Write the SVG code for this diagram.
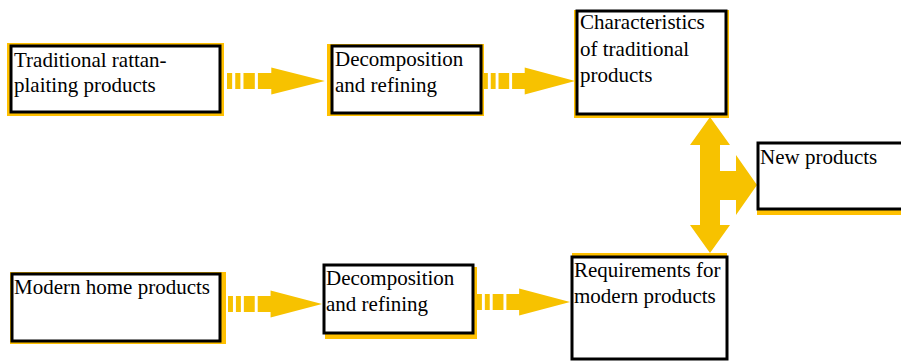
<svg xmlns="http://www.w3.org/2000/svg" xmlns:xlink="http://www.w3.org/1999/xlink" width="901" height="361" viewBox="0 0 901 361">
<style>
.bg{fill:#FFC000}
.box{fill:#fff;stroke:#000;stroke-width:3}
.t{font-family:"Liberation Serif","Times New Roman",serif;font-size:21px;fill:#000}
.arr{fill:#F7C200}
</style>
<defs>
<path id="sarrow" d="M0,-8H5V8H0Z M8,-8H13V8H8Z M16,-8H27V8H16Z M30,-8H43V-13.5L95,0L43,13.5V8H30Z"/>
</defs>
<rect width="901" height="361" fill="#fff"/>
<g id="connectors" class="arr">
<use xlink:href="#sarrow" transform="translate(227,81) scale(1.03,1)"/>
<use xlink:href="#sarrow" transform="translate(483,81) scale(0.97,1)"/>
<use xlink:href="#sarrow" transform="translate(228,304) scale(0.99,1)"/>
<use xlink:href="#sarrow" transform="translate(477,302) scale(0.98,1)"/>
<polygon points="710,117 730,145 720,145 720,171 736,171 736,155 757,185 736,215 736,200 720,200 720,225 730,225 710,253 690,225 700,225 700,145 690,145"/>
</g>
<g id="n1">
<rect class="bg" x="7" y="43" width="217" height="73"/>
<rect class="box" x="11" y="46" width="209" height="66"/>
<text class="t" x="14" y="67">Traditional rattan-</text>
<text class="t" x="14" y="92">plaiting products</text>
</g>
<g id="n2">
<rect class="bg" x="327" y="44" width="157" height="72"/>
<rect class="box" x="332" y="46" width="149" height="67"/>
<text class="t" x="335" y="66">Decomposition</text>
<text class="t" x="335" y="92">and refining</text>
</g>
<g id="n3">
<rect class="bg" x="574" y="10" width="155" height="108"/>
<rect class="box" x="577" y="11" width="149" height="103"/>
<text class="t" x="580" y="29">Characteristics</text>
<text class="t" x="580" y="56">of traditional</text>
<text class="t" x="580" y="82">products</text>
</g>
<g id="n4">
<rect class="bg" x="757" y="142" width="150" height="73"/>
<rect class="box" x="758" y="143" width="150" height="66"/>
<text class="t" x="760" y="164">New products</text>
</g>
<g id="n5">
<rect class="bg" x="10" y="272" width="216" height="72"/>
<rect class="box" x="12" y="274" width="208" height="67"/>
<text class="t" x="14" y="294">Modern home products</text>
</g>
<g id="n6">
<rect class="bg" x="325" y="267" width="152" height="72"/>
<rect class="box" x="324" y="265" width="149" height="68"/>
<text class="t" x="326" y="285">Decomposition</text>
<text class="t" x="326" y="311">and refining</text>
</g>
<g id="n7">
<rect class="bg" x="572" y="253" width="155" height="10"/>
<rect class="box" x="572" y="257" width="155" height="102"/>
<text class="t" x="574" y="277">Requirements for</text>
<text class="t" x="574" y="303">modern products</text>
</g>
</svg>
